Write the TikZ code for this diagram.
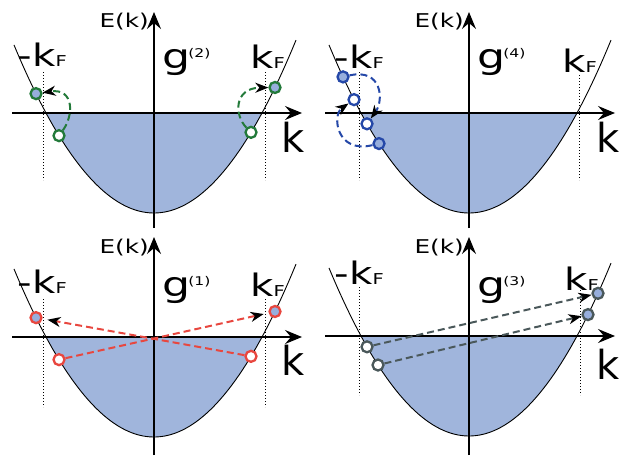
\documentclass[tikz,border=0pt]{standalone}
\usepackage{fontspec}
\usepackage{graphicx}
\setmainfont{DejaVu Sans}
\usetikzlibrary{arrows.meta}
\definecolor{fillblue}{HTML}{A0B5DC}
\definecolor{occblue}{HTML}{97AEDC}
\definecolor{gcol}{HTML}{237A3A}
\definecolor{bcol}{HTML}{2548A8}
\definecolor{rcol}{HTML}{E8473F}
\definecolor{scol}{HTML}{4A585A}
\newcommand\mymkF{\scalebox{1.3}[1]{{\fontsize{31}{31}\selectfont -k}{\fontsize{15}{15}\selectfont F}}}
\newcommand\mykF{\scalebox{1.3}[1]{{\fontsize{31}{31}\selectfont k}{\fontsize{15}{15}\selectfont F}}}
\newcommand\myEk{\scalebox{1.3}[1]{\fontsize{19}{19}\selectfont E(k)}}
\newcommand\myK{{\fontsize{40}{40}\selectfont k}}
\newcommand\myg[1]{\scalebox{1.3}[1]{\fontsize{34}{34}\selectfont g\kern-1.5pt\raisebox{11pt}{\fontsize{12}{12}\selectfont (#1)}}}
\begin{document}
\begin{tikzpicture}[x=1pt,y=-1pt,
  axis/.style={line width=1.2pt,-{Stealth[length=17pt,width=14pt,inset=6pt]}},
  band/.style={line width=0.9pt},
  fermi/.style={line width=0.9pt,dash pattern=on 1pt off 2pt},
  state/.style={circle,minimum size=11pt,inner sep=0pt,line width=2.3pt},
  hole/.style={state,fill=white},
  occ/.style={state,fill=occblue},
  jump/.style={line width=2pt,dash pattern=on 7pt off 4pt,-{Stealth[black,length=13pt,width=10pt,inset=4pt]}},
  lbl/.style={inner sep=0pt,anchor=base west},
  lble/.style={inner sep=0pt,anchor=base east}]
\useasboundingbox (0,0) rectangle (620,455);
% ---------- panel 1 : g(2) ----------
\fill[fillblue] plot[domain=-108:108,samples=60] ({154+\x},{213-100*(\x/108)*(\x/108)}) -- cycle;
\draw[fermi] (43,72) -- (43,180) (265,72) -- (265,180);
\coordinate (h1a) at (12,113); \coordinate (h1b) at (302,113);
\coordinate (v1a) at (154,228); \coordinate (v1b) at (154,12);
\draw[axis] (h1a) -- (h1b);
\draw[axis] (v1a) -- (v1b);
\draw[band] plot[domain=-140:142,samples=80] ({154+\x},{213-100*(\x/108)*(\x/108)});
\node[occ,draw=gcol] (g1a) at ({154-118},{213-100*(118/108)*(118/108)}) {};
\node[hole,draw=gcol] (g1b) at ({154-95},{213-100*(95/108)*(95/108)}) {};
\node[hole,draw=gcol] (g1c) at ({154+97},{213-100*(97/108)*(97/108)}) {};
\node[occ,draw=gcol] (g1d) at ({154+121},{213-100*(121/108)*(121/108)}) {};
\draw[jump,gcol] (g1b) .. controls (74,115) and (74,88) .. (g1a);
\draw[jump,gcol] (g1c) .. controls (234,115) and (234,88) .. (g1d);
\node[lble] (e1) at (149,27) {\myEk};
\node[lbl] (gg1) at (162,68) {\myg{2}};
\node[lble] (m1) at (67,66) {\mymkF};
\node[lble] (p1) at (285,68) {\mykF};
\node[lbl] (k1) at (281,152) {\myK};
% ---------- panel 2 : g(4) ----------
\fill[fillblue] plot[domain=-108:108,samples=60] ({469+\x},{213-100*(\x/108)*(\x/108)}) -- cycle;
\draw[fermi] (359,72) -- (359,180) (579,75) -- (579,180);
\coordinate (h2a) at (325,113); \coordinate (h2b) at (615,113);
\coordinate (v2a) at (469,228); \coordinate (v2b) at (469,12);
\draw[axis] (h2a) -- (h2b);
\draw[axis] (v2a) -- (v2b);
\draw[band] plot[domain=-140:142,samples=80] ({469+\x},{213-100*(\x/108)*(\x/108)});
\node[occ,draw=bcol] (b1) at ({469-126},{213-100*(126/108)*(126/108)}) {};
\node[hole,draw=bcol] (b2) at ({469-115},{213-100*(115/108)*(115/108)}) {};
\node[hole,draw=bcol] (b3) at ({469-102},{213-100*(102/108)*(102/108)}) {};
\node[occ,draw=bcol] (b4) at ({469-90},{213-100*(90/108)*(90/108)}) {};
\draw[jump,bcol] (b1) .. controls (382,68) and (384,100) .. (b3);
\draw[jump,bcol] (b4) .. controls (336,154) and (332,115) .. (b2);
\node[lble] (e2) at (464,27) {\myEk};
\node[lbl] (gg2) at (477,68) {\myg{4}};
\node[lble] (m2) at (384,68) {\mymkF};
\node[lble] (p2) at (597,72) {\mykF};
\node[lbl] (k2) at (596,152) {\myK};
% ---------- panel 3 : g(1) ----------
\fill[fillblue] plot[domain=-108:108,samples=60] ({154+\x},{437-100*(\x/108)*(\x/108)}) -- cycle;
\draw[fermi] (43,299) -- (43,407) (265,299) -- (265,407);
\coordinate (h3a) at (12,337); \coordinate (h3b) at (302,337);
\coordinate (v3a) at (154,455); \coordinate (v3b) at (154,237);
\draw[axis] (h3a) -- (h3b);
\draw[axis] (v3a) -- (v3b);
\draw[band] plot[domain=-140:142,samples=80] ({154+\x},{437-100*(\x/108)*(\x/108)});
\node[occ,draw=rcol] (r1) at ({154-118},{437-100*(118/108)*(118/108)}) {};
\node[hole,draw=rcol] (r2) at ({154-95},{437-100*(95/108)*(95/108)}) {};
\node[hole,draw=rcol] (r3) at ({154+97},{437-100*(97/108)*(97/108)}) {};
\node[occ,draw=rcol] (r4) at ({154+121},{437-100*(121/108)*(121/108)}) {};
\draw[jump,rcol,shorten >=5pt] (r2) -- (r4);
\draw[jump,rcol,shorten >=5pt] (r3) -- (r1);
\node[lble] (e3) at (149,253) {\myEk};
\node[lbl] (gg3) at (162,296) {\myg{1}};
\node[lble] (m3) at (67,293) {\mymkF};
\node[lble] (p3) at (285,296) {\mykF};
\node[lbl] (k3) at (281,375) {\myK};
% ---------- panel 4 : g(3) ----------
\fill[fillblue] plot[domain=-108:108,samples=60] ({469+\x},{436-100*(\x/108)*(\x/108)}) -- cycle;
\draw[fermi] (359,287) -- (359,395) (580,287) -- (580,395);
\coordinate (h4a) at (325,336); \coordinate (h4b) at (615,336);
\coordinate (v4a) at (469,455); \coordinate (v4b) at (469,237);
\draw[axis] (h4a) -- (h4b);
\draw[axis] (v4a) -- (v4b);
\draw[band] plot[domain=-140:142,samples=80] ({469+\x},{436-100*(\x/108)*(\x/108)});
\node[hole,draw=scol] (s1) at ({469-102},{436-100*(102/108)*(102/108)}) {};
\node[hole,draw=scol] (s2) at ({469-91},{436-100*(91/108)*(91/108)}) {};
\node[occ,draw=scol] (s3) at ({469+119},{436-100*(119/108)*(119/108)}) {};
\node[occ,draw=scol] (s4) at ({469+129},{436-100*(129/108)*(129/108)}) {};
\draw[jump,scol] (s1) -- (s4);
\draw[jump,scol] (s2) -- (s3);
\node[lble] (e4) at (464,253) {\myEk};
\node[lbl] (gg4) at (477,296) {\myg{3}};
\node[lble] (m4) at (384,284) {\mymkF};
\node[lble] (p4) at (599,290) {\mykF};
\node[lbl] (k4) at (596,379) {\myK};
\end{tikzpicture}
\end{document}
